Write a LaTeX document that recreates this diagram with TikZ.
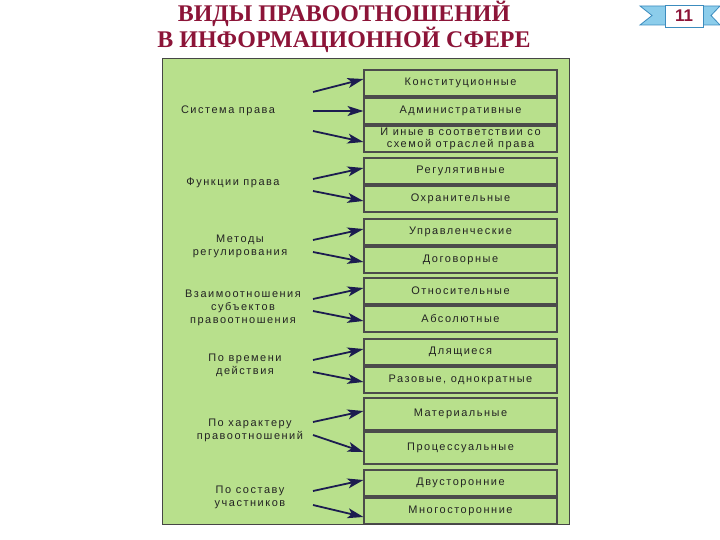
\documentclass[tikz,border=0pt]{standalone}
\usepackage{fontspec}
\setmainfont{Liberation Sans}
\newfontfamily\titlefont{Liberation Serif}
\newfontfamily\boxfont[LetterSpace=14]{Liberation Sans}
\usetikzlibrary{arrows.meta}
\definecolor{panelgreen}{RGB}{184,224,140}
\definecolor{panelborder}{RGB}{70,70,70}
\definecolor{boxborder}{RGB}{75,75,75}
\definecolor{textgray}{RGB}{35,35,35}
\definecolor{titlered}{RGB}{140,20,56}
\definecolor{arrownavy}{RGB}{28,28,80}
\definecolor{ribbonblue}{RGB}{140,205,235}
\definecolor{ribbondark}{RGB}{60,140,190}
\begin{document}
\begin{tikzpicture}[x=1bp,y=-1bp,
  kind/.style={draw=boxborder, line width=1.1pt, fill=panelgreen,
    minimum width=193bp, minimum height=26bp, inner sep=0pt,
    font=\boxfont\fontsize{11}{12}\selectfont, text=textgray, align=center},
  tallkind/.style={kind, minimum height=32bp},
  grp/.style={font=\boxfont\fontsize{11}{12.8}\selectfont, text=textgray, align=center, inner sep=0pt},
  arr/.style={draw=arrownavy, line width=1.8pt, -{Stealth[length=16pt,width=10pt,inset=4pt,fill=arrownavy]}},
  titlestyle/.style={font=\titlefont\bfseries\fontsize{24}{23}\selectfont, text=titlered, align=center},
  badge/.style={draw=ribbondark, line width=0.8pt, fill=white, minimum width=38bp, minimum height=22bp,
    inner sep=0pt, font=\bfseries\fontsize{17}{17}\selectfont, text=titlered}
]
\useasboundingbox (0,0) rectangle (720,540);
\fill[white] (0,0) rectangle (720,540);

% title
\node[titlestyle] (title) at (344,27) {ВИДЫ ПРАВООТНОШЕНИЙ\\В ИНФОРМАЦИОННОЙ СФЕРЕ};

% badge
\filldraw[fill=ribbonblue, draw=ribbondark, line width=0.8pt] (640,6) -- (666,6) -- (666,25) -- (640,25) -- (652,15.5) -- cycle;
\filldraw[fill=ribbonblue, draw=ribbondark, line width=0.8pt] (702,6) -- (720,6) -- (711,15.5) -- (720,25) -- (702,25) -- cycle;
\node[badge] (num) at (684,16) {11};

% panel
\fill[panelgreen] (162,59) rectangle (569,524);

% boxes
\node[kind] (b1) at (460.5,83) {Конституционные};
\node[kind] (b2) at (460.5,111) {Административные};
\node[kind] (b3) at (460.5,139) {И иные в соответствии со\\схемой отраслей права};
\node[kind] (b4) at (460.5,171) {Регулятивные};
\node[kind] (b5) at (460.5,199) {Охранительные};
\node[kind] (b6) at (460.5,232) {Управленческие};
\node[kind] (b7) at (460.5,260) {Договорные};
\node[kind] (b8) at (460.5,291) {Относительные};
\node[kind] (b9) at (460.5,319) {Абсолютные};
\node[kind] (b10) at (460.5,352) {Длящиеся};
\node[kind] (b11) at (460.5,380) {Разовые, однократные};
\node[tallkind] (b12) at (460.5,414) {Материальные};
\node[tallkind] (b13) at (460.5,448) {Процессуальные};
\node[kind] (b14) at (460.5,483) {Двусторонние};
\node[kind] (b15) at (460.5,511) {Многосторонние};

\draw[panelborder, line width=1pt] (162,59) rectangle (569,524);

% group labels
\node[grp] (g1) at (228,111) {Система права};
\node[grp] (g2) at (233,183) {Функции права};
\node[grp] (g3) at (240,246) {Методы\\регулирования};
\node[grp] (g4) at (243,308) {Взаимоотношения\\субъектов\\правоотношения};
\node[grp] (g5) at (245,365) {По времени\\действия};
\node[grp] (g6) at (250,430.5) {По характеру\\правоотношений};
\node[grp] (g7) at (250,497) {По составу\\участников};

% arrow starts
\coordinate (s1) at (313,92);
\coordinate (s2) at (313,111);
\coordinate (s3) at (313,131);
\coordinate (s4) at (313,179);
\coordinate (s5) at (313,191);
\coordinate (s6) at (313,240);
\coordinate (s7) at (313,252);
\coordinate (s8) at (313,299);
\coordinate (s9) at (313,311);
\coordinate (s10) at (313,360);
\coordinate (s11) at (313,372);
\coordinate (s12) at (313,422);
\coordinate (s13) at (313,435);
\coordinate (s14) at (313,491);
\coordinate (s15) at (313,505);

% arrows
\draw[arr] (s1) -- ([yshift=4pt]b1.west);
\draw[arr] (s2) -- (b2.west);
\draw[arr] (s3) -- ([yshift=-3pt]b3.west);
\draw[arr] (s4) -- ([yshift=3pt]b4.west);
\draw[arr] (s5) -- ([yshift=-2pt]b5.west);
\draw[arr] (s6) -- ([yshift=3pt]b6.west);
\draw[arr] (s7) -- ([yshift=-2pt]b7.west);
\draw[arr] (s8) -- ([yshift=3pt]b8.west);
\draw[arr] (s9) -- ([yshift=-2pt]b9.west);
\draw[arr] (s10) -- ([yshift=3pt]b10.west);
\draw[arr] (s11) -- ([yshift=-2pt]b11.west);
\draw[arr] (s12) -- ([yshift=3pt]b12.west);
\draw[arr] (s13) -- ([yshift=-4pt]b13.west);
\draw[arr] (s14) -- ([yshift=3pt]b14.west);
\draw[arr] (s15) -- ([yshift=-6pt]b15.west);
\end{tikzpicture}
\end{document}
